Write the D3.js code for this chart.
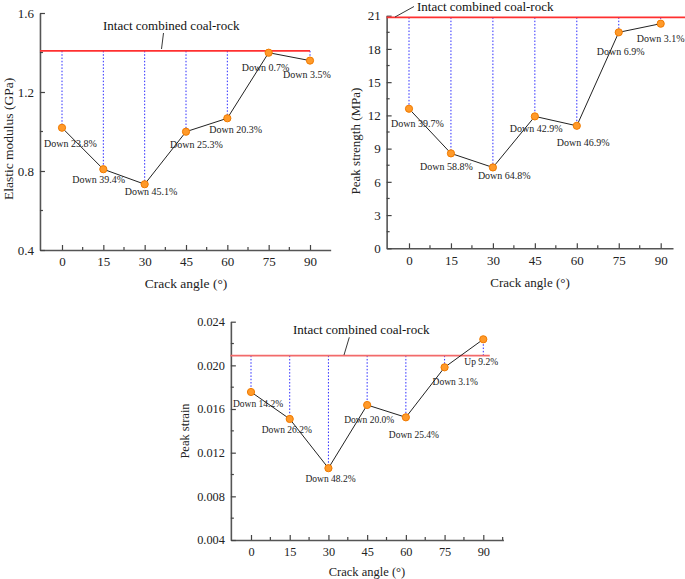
<!DOCTYPE html>
<html><head><meta charset="utf-8">
<script src="https://cdn.jsdelivr.net/npm/d3@7"></script>
<style>
html,body{margin:0;padding:0;background:#fff;}
svg{display:block;font-family:"Liberation Serif","Times New Roman",serif;}
</style></head>
<body>
<svg id="c" width="685" height="579"></svg>
<script>
// ---------- data ----------
const angles = [0, 15, 30, 45, 60, 75, 90];
const xTicks = [0, 15, 30, 45, 60, 75, 90];
const annotationText = "Intact combined coal-rock";

const modulusValues = [1.019, 0.809, 0.733, 0.999, 1.067, 1.399, 1.359];
const modulusIntact = 1.408;
const modulusLabels = ["Down 23.8%", "Down 39.4%", "Down 45.1%", "Down 25.3%", "Down 20.3%", "Down 0.7%", "Down 3.5%"];
const modulusTicks = [0.4, 0.8, 1.2, 1.6];

const strengthValues = [12.6, 8.57, 7.3, 11.91, 11.06, 19.5, 20.28];
const strengthIntact = 20.85;
const strengthLabels = ["Down 39.7%", "Down 58.8%", "Down 64.8%", "Down 42.9%", "Down 46.9%", "Down 6.9%", "Down 3.1%"];
const strengthTicks = [0, 3, 6, 9, 12, 15, 18, 21];

const strainValues = [0.01756, 0.01509, 0.01058, 0.01637, 0.01524, 0.01982, 0.02239];
const strainIntact = 0.02089;
const strainLabels = ["Down 14.2%", "Down 26.2%", "Down 48.2%", "Down 20.0%", "Down 25.4%", "Down 3.1%", "Up 9.2%"];
const strainTicks = [0.004, 0.008, 0.012, 0.016, 0.020, 0.024];

// ---------- layout ----------
const panels = [
  { values: modulusValues, intact: modulusIntact, labels: modulusLabels, ticks: modulusTicks,
    yTitle: "Elastic modulus (GPa)", fmt: d3.format(".1f"),
    x0px: 62, x90px: 310, xMin: -8, xMax: 97.5, yDomain: [0.4, 1.6], yRange: [250, 13],
    redFrom: -8, redTo: 90, red: "#ff3030",
    fs: 13, labFs: 10, titleFs: 13.5,
    yTitlePos: [13, 139], xTitlePos: [186, 288],
    annot: { x: 103, y: 30, lx1: 163.5, ly1: 33, lx2: 161.5, ly2: 49 },
    offs: [[-18,19],[-31,14],[-20,11],[-16,16],[-18,15],[-27,18],[-27,17]] },
  { values: strengthValues, intact: strengthIntact, labels: strengthLabels, ticks: strengthTicks,
    yTitle: "Peak strength (MPa)", fmt: d3.format("d"),
    x0px: 409, x90px: 660.7, xMin: -8, xMax: 94.4, yDomain: [0, 21], yRange: [248.3, 15.7],
    redFrom: -8, redTo: 110, red: "#ff3030",
    fs: 13, labFs: 10, titleFs: 13,
    yTitlePos: [360, 141], xTitlePos: [530, 287],
    annot: { x: 417, y: 10.5, lx1: 395, ly1: 17, lx2: 414, ly2: 6.5 },
    offs: [[-18,18],[-31,17],[-15,12],[-25,16],[-20,20],[-22,23],[-24,18]] },
  { values: strainValues, intact: strainIntact, labels: strainLabels, ticks: strainTicks,
    yTitle: "Peak strain", fmt: d3.format(".3f"),
    x0px: 251, x90px: 483.3, xMin: -7.8, xMax: 97.8, yDomain: [0.004, 0.024], yRange: [540, 321.7],
    redFrom: -8, redTo: 92.5, red: "#f26a6a",
    fs: 12.3, labFs: 9.5, titleFs: 12.5,
    yTitlePos: [189, 431], xTitlePos: [367, 576],
    annot: { x: 293, y: 334, lx1: 349.3, ly1: 337.3, lx2: 344, ly2: 355 },
    offs: [[-18,15],[-28,14],[-23,14],[-23,18],[-17,21],[-12,18],[-19,26]] }
];

const svg = d3.select("#c");

panels.forEach(p => {
  const k = (p.x90px - p.x0px) / 90;
  const x = d3.scaleLinear().domain([p.xMin, p.xMax])
    .range([p.x0px + p.xMin * k, p.x0px + p.xMax * k]);
  const y = d3.scaleLinear().domain(p.yDomain).range(p.yRange);
  const g = svg.append("g");
  const xAxisY = p.yRange[0];
  const yAxisX = x(p.xMin);

  // minor ticks
  const xMinor = d3.range(7.5, p.xMax, 15);
  const yStep = p.ticks[1] - p.ticks[0];
  const yMinor = p.ticks.slice(0, -1).map(t => t + yStep / 2);

  // x axis
  const xa = g.append("g").attr("transform", `translate(0,${xAxisY})`)
    .call(d3.axisBottom(x).tickValues(xTicks).tickSizeInner(-5).tickSizeOuter(0).tickPadding(7));
  xa.selectAll("text").attr("font-size", p.fs).attr("fill", "#222")
    .attr("font-family", "Liberation Serif, Times New Roman, serif");
  xa.selectAll(".tick line").attr("stroke", "#444").attr("stroke-width", 1.2);
  xa.select(".domain").attr("stroke", "#555").attr("stroke-width", 1.6);
  xa.selectAll(".minor").data(xMinor).enter().append("line")
    .attr("x1", d => x(d)).attr("x2", d => x(d)).attr("y1", 0).attr("y2", -3)
    .attr("stroke", "#444").attr("stroke-width", 1.2);

  // y axis
  const ya = g.append("g").attr("transform", `translate(${yAxisX},0)`)
    .call(d3.axisLeft(y).tickValues(p.ticks).tickFormat(p.fmt).tickSizeInner(-5).tickSizeOuter(0).tickPadding(6));
  ya.selectAll("text").attr("font-size", p.fs).attr("fill", "#222")
    .attr("font-family", "Liberation Serif, Times New Roman, serif");
  ya.selectAll(".tick line").attr("stroke", "#444").attr("stroke-width", 1.2);
  ya.select(".domain").attr("stroke", "#555").attr("stroke-width", 1.6);
  ya.selectAll(".minor").data(yMinor).enter().append("line")
    .attr("x1", 0).attr("x2", 3).attr("y1", d => y(d)).attr("y2", d => y(d))
    .attr("stroke", "#444").attr("stroke-width", 1.2);

  // axis titles
  g.append("text").attr("x", p.xTitlePos[0]).attr("y", p.xTitlePos[1])
    .attr("text-anchor", "middle").attr("font-size", p.titleFs).attr("fill", "#222")
    .text("Crack angle (°)");
  g.append("text").attr("transform", `translate(${p.yTitlePos[0]},${p.yTitlePos[1]}) rotate(-90)`)
    .attr("text-anchor", "middle").attr("font-size", p.titleFs).attr("fill", "#222")
    .text(p.yTitle);

  // blue dotted drop lines
  g.selectAll(".drop").data(angles).enter().append("line")
    .attr("x1", d => x(d)).attr("x2", d => x(d))
    .attr("y1", y(p.intact)).attr("y2", (d, i) => y(p.values[i]))
    .attr("stroke", "#2a2aff").attr("stroke-width", 1).attr("stroke-dasharray", "1.5,1.8");

  // red intact line
  g.append("line").attr("x1", p.x0px + p.redFrom * k).attr("x2", Math.min(p.x0px + p.redTo * k, 685))
    .attr("y1", y(p.intact)).attr("y2", y(p.intact))
    .attr("stroke", p.red).attr("stroke-width", 1.6);

  // annotation
  g.append("text").attr("x", p.annot.x).attr("y", p.annot.y)
    .attr("font-size", 13).attr("fill", "#111").text(annotationText);
  g.append("line").attr("x1", p.annot.lx1).attr("y1", p.annot.ly1)
    .attr("x2", p.annot.lx2).attr("y2", p.annot.ly2)
    .attr("stroke", "#222").attr("stroke-width", 0.9);

  // data line
  const line = d3.line().x((d, i) => x(angles[i])).y(d => y(d));
  g.append("path").datum(p.values).attr("d", line)
    .attr("fill", "none").attr("stroke", "#222").attr("stroke-width", 1);

  // markers
  g.selectAll(".pt").data(p.values).enter().append("circle")
    .attr("cx", (d, i) => x(angles[i])).attr("cy", d => y(d)).attr("r", 3.6)
    .attr("fill", "#ff9a2a").attr("stroke", "#f07a00").attr("stroke-width", 1);

  // labels
  g.selectAll(".lab").data(p.labels).enter().append("text")
    .attr("x", (d, i) => x(angles[i]) + p.offs[i][0])
    .attr("y", (d, i) => y(p.values[i]) + p.offs[i][1])
    .attr("font-size", p.labFs).attr("fill", "#222").text(d => d);
});
</script>
</body></html>
